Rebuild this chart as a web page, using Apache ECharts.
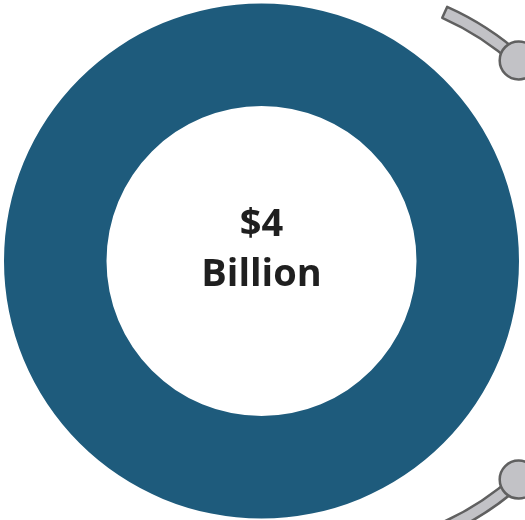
<!DOCTYPE html>
<html>
<head>
<meta charset="utf-8">
<script src="https://cdn.jsdelivr.net/npm/echarts@6/dist/echarts.min.js"></script>
<style>
	html, body { margin: 0; padding: 0; background: #fff; }
	#chart { width: 525px; height: 520px; }
</style>
</head>
<body>
<div id="chart"></div>
<script>
let categories = ["Total"];
let values = [4];
let unitLabel = "Billion";

// decorative gray track: [visible?, degrees] starting at 66deg going clockwise
let trackParts = [["on", 18], ["off", 96], ["on", 32], ["off", 214]];

let chart = echarts.init(document.getElementById("chart"));

let trackCenter = [330, 270];
let trackRadius = 282;
let knobs = [48, -48].map(deg => {
	let a = deg * Math.PI / 180;
	return {
		type: "circle",
		z: 10,
		shape: {cx: trackCenter[0] + trackRadius * Math.cos(a), cy: trackCenter[1] - trackRadius * Math.sin(a), r: 19},
		style: {fill: "#c2c2c6", stroke: "#606060", lineWidth: 2.5}
	};
});

chart.setOption({
	animation: false,
	graphic: knobs,
	series: [
		{
			type: "pie",
			silent: true,
			center: [261.5, 261],
			radius: [155, 257.5],
			startAngle: 90,
			label: {
				show: true,
				position: "center",
				offset: [0, -11],
				formatter: p => `{a|$${p.value}}\n{a|${unitLabel}}`,
				rich: {
					a: {fontFamily: "Open Sans", fontWeight: "bold", fontSize: 38, lineHeight: 50, color: "#1f1f1f"}
				}
			},
			labelLine: {show: false},
			itemStyle: {color: "#1e5b7c"},
			data: categories.map((c, i) => ({name: c, value: values[i]}))
		},
		{
			type: "pie",
			silent: true,
			center: trackCenter,
			radius: [trackRadius - 6, trackRadius + 6],
			startAngle: 66,
			clockwise: true,
			minAngle: 0,
			label: {show: false},
			labelLine: {show: false},
			data: trackParts.map(p => ({
				value: p[1],
				itemStyle: p[0] === "on"
					? {color: "#c2c2c6", borderColor: "#606060", borderWidth: 2.5}
					: {color: "rgba(0,0,0,0)", borderWidth: 0}
			}))
		}
	]
});
</script>
</body>
</html>
